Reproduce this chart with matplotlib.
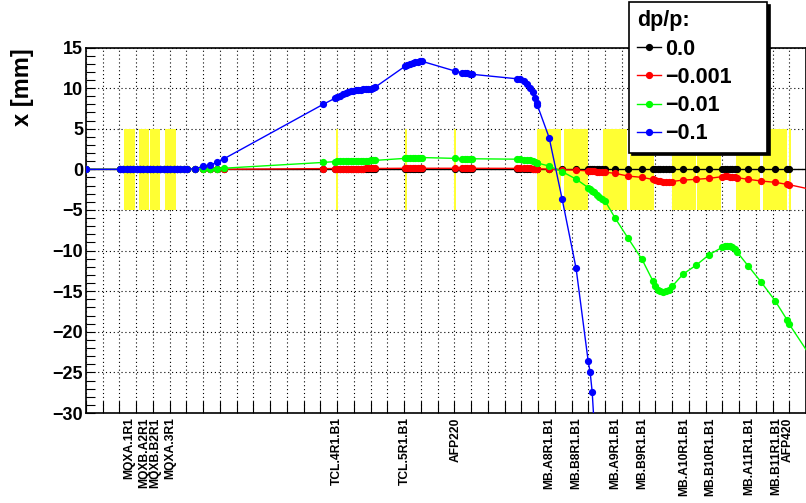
import numpy as np
import matplotlib.pyplot as plt
from matplotlib.patches import Rectangle
from matplotlib.ticker import MultipleLocator

plt.rcParams['font.family'] = ['Liberation Sans', 'DejaVu Sans']
plt.rcParams['font.weight'] = 'bold'

# --- tracked positions along the beam line, s [m]
s_m = [0.0,
       20.3, 22.3, 24.3, 26.3, 28.3, 30.3, 32.3, 34.3, 36.3, 38.3, 40.3,
       42.3, 44.3, 46.3, 48.3, 50.3, 52.3, 54.3, 56.3, 58.3, 60.3,
       65.1, 69.9, 74.1, 78.3, 82.4,
       141.6, 148.7, 150.2, 151.7, 153.5, 155.0, 156.5, 158.0, 159.5,
       161.0, 162.5, 164.0, 165.5, 167.0, 168.5, 170.0, 171.5, 172.6,
       190.6, 192.0, 193.5, 195.0, 196.5, 198.0, 199.5, 200.7,
       220.4,
       224.6, 226.1, 227.6, 229.1, 230.6,
       257.3, 259.3, 261.3, 263.3, 265.2, 266.8, 268.2, 269.2, 269.6,
       276.6, 284.4, 292.7,
       299.9, 301.1, 302.3, 303.5, 305.0, 306.5, 308.0, 310.0,
       316.0, 323.8, 332.1,
       338.7, 340.0, 341.5, 343.0, 344.7, 346.5, 348.3, 350.1,
       356.6, 364.4, 372.2,
       380.0, 381.5, 383.0, 384.5, 386.0, 387.5, 388.9,
       395.5, 403.3, 411.6, 418.6, 420.1, 440.0]

# horizontal offset x [mm] for each momentum deviation
x_dp0 = np.zeros(len(s_m))  # nominal orbit stays on axis

x_dp1 = [0.0,
         0.0, 0.0, 0.0, 0.0, 0.0, 0.0, 0.0, 0.0, 0.0, 0.0, 0.0,
         0.0, 0.0, 0.0, 0.0, 0.0, 0.0, 0.0, 0.0, 0.0, 0.0,
         0.0, 0.0, 0.01, 0.01, 0.01,
         0.09, 0.1, 0.1, 0.1, 0.1, 0.1, 0.1, 0.1, 0.1,
         0.1, 0.1, 0.1, 0.1, 0.11, 0.11, 0.11, 0.11, 0.11,
         0.13, 0.13, 0.13, 0.13, 0.13, 0.13, 0.13, 0.13,
         0.13,
         0.13, 0.13, 0.13, 0.13, 0.13,
         0.12, 0.12, 0.12, 0.11, 0.11, 0.1, 0.09, 0.08, 0.07,
         0.02, -0.05, -0.1,
         -0.2, -0.22, -0.24, -0.26, -0.28, -0.3, -0.32, -0.35,
         -0.5, -0.83, -0.99,
         -1.25, -1.35, -1.42, -1.47, -1.5, -1.52, -1.52, -1.5,
         -1.32, -1.23, -1.11,
         -0.9, -0.88, -0.88, -0.9, -0.93, -0.97, -1.03,
         -1.23, -1.44, -1.6, -1.85, -1.9, -2.78]

x_dp2 = [0.0,
         0.0, 0.0, 0.0, 0.0, 0.0, 0.0, 0.0, 0.0, 0.0, 0.0, 0.0,
         0.0, 0.0, 0.0, 0.0, 0.0, 0.0, 0.0, 0.0, 0.0, 0.0,
         0.01, 0.04, 0.06, 0.09, 0.14,
         0.85, 0.95, 0.97, 1.0, 1.02, 1.03, 1.04, 1.05, 1.06,
         1.06, 1.07, 1.07, 1.08, 1.08, 1.08, 1.09, 1.1, 1.1,
         1.35, 1.37, 1.39, 1.41, 1.43, 1.44, 1.45, 1.45,
         1.35,
         1.32, 1.31, 1.31, 1.3, 1.3,
         1.25, 1.24, 1.21, 1.17, 1.1, 1.02, 0.93, 0.83, 0.78,
         0.4, -0.29, -1.2,
         -2.25, -2.45, -2.65, -2.85, -3.1, -3.35, -3.6, -3.9,
         -6.0, -8.5, -11.1,
         -13.8, -14.4, -14.8, -15.0, -15.1, -15.0, -14.8, -14.4,
         -12.9, -11.8, -10.5,
         -9.6, -9.45, -9.4, -9.45, -9.6, -9.85, -10.2,
         -11.9, -13.9, -16.2, -18.5, -19.1, -25.3]

nan = np.nan
x_dp3 = [0.0,
         0.0, 0.0, 0.0, 0.0, 0.0, 0.0, 0.0, 0.0, 0.0, 0.0, 0.0,
         0.0, 0.0, 0.0, 0.0, 0.0, 0.0, 0.0, 0.0, 0.0, 0.0,
         0.1, 0.35, 0.55, 0.85, 1.3,
         8.0, 8.75, 8.85, 9.0, 9.3, 9.45, 9.55, 9.65, 9.7,
         9.75, 9.8, 9.8, 9.85, 9.85, 9.85, 9.9, 10.0, 10.1,
         12.7, 12.85, 13.0, 13.1, 13.2, 13.25, 13.3, 13.3,
         12.1,
         11.9, 11.85, 11.8, 11.75, 11.7,
         11.15, 11.07, 10.86, 10.54, 10.05, 9.5, 8.8, 8.2, 7.87,
         3.9, -3.7, -12.2,
         -23.6, -25.0, -27.4, -31.5, nan, nan, nan, nan,
         nan, nan, nan,
         nan, nan, nan, nan, nan, nan, nan, nan,
         nan, nan, nan,
         nan, nan, nan, nan, nan, nan, nan,
         nan, nan, nan, nan, nan, nan]

dp_labels = ['0.0', '\u22120.001', '\u22120.01', '\u22120.1']
dp_colors = ['black', '#ff0000', '#00ff00', '#0000ff']

# apertures (+-5 mm): start [m], length [m]
elem_start = [22.7, 31.7, 38.2, 47.2,
              149.5, 190.8, 220.0, 420.1,
              269.6, 285.4, 308.8, 325.0, 350.0, 365.2, 388.3, 404.4]
elem_len = [6.6, 5.9, 6.0, 6.6,
            0.9, 0.9, 0.9, 0.9,
            14.3, 14.3, 14.3, 14.3, 14.3, 14.3, 14.3, 14.3]
aper = 5.0

# element names under the axis
name_pos = [26.0, 34.7, 41.2, 50.5, 149.9, 190.6, 221.0,
            276.9, 292.7, 316.0, 332.1, 357.5, 372.6, 396.0, 412.5, 418.8]
names = ['MQXA.1R1', 'MQXB.A2R1', 'MQXB.B2R1', 'MQXA.3R1',
         'TCL.4R1.B1', 'TCL.5R1.B1', 'AFP220',
         'MB.A8R1.B1', 'MB.B8R1.B1', 'MB.A9R1.B1', 'MB.B9R1.B1',
         'MB.A10R1.B1', 'MB.B10R1.B1', 'MB.A11R1.B1', 'MB.B11R1.B1', 'AFP420']

fig = plt.figure(figsize=(8.06, 5.03), dpi=100)
ax = fig.add_axes([86 / 806, 1 - 413 / 503, 720 / 806, 365.5 / 503])
ax.set_axisbelow(True)

for s0, L in zip(elem_start, elem_len):
    ax.add_patch(Rectangle((s0, -aper), L, 2 * aper, facecolor='#ffff33',
                           edgecolor='none', zorder=1))

for xs, lab, c in zip([x_dp0, x_dp1, x_dp2, x_dp3], dp_labels, dp_colors):
    ax.plot(s_m, xs, color=c, lw=1.0, marker='o', ms=4.2, label=lab, zorder=3)

ax.set_xlim(0, 430)
ax.set_ylim(-30, 15)
ax.xaxis.set_major_locator(MultipleLocator(10))
ax.yaxis.set_major_locator(MultipleLocator(5))
ax.yaxis.set_minor_locator(MultipleLocator(1))
ax.set_xticks(name_pos, names, minor=True)

ax.tick_params(axis='x', which='major', direction='in', length=8.6, width=0.8,
               labelbottom=False)
ax.tick_params(axis='x', which='minor', length=0, labelrotation=90,
               labelsize=8.7, pad=3)
ax.tick_params(axis='y', which='both', direction='in', length=6.5, width=0.8,
               labelsize=13, pad=2)
for lbl in ax.get_yticklabels():
    lbl.set_fontweight('bold')

ax.grid(True, which='major', color='black', linestyle=(0, (1, 2.5)), lw=0.8)
for sp in ax.spines.values():
    sp.set_linewidth(1.2)

fig.text(22 / 806, 1 - 48 / 503, 'x [mm]', rotation=90, ha='center', va='top',
         fontsize=17, fontweight='bold')

leg = ax.legend(title='dp/p:', loc='upper left',
                bbox_to_anchor=(629 / 806, 1 - 2 / 503, 138 / 806, 0),
                bbox_transform=fig.transFigure, mode='expand',
                fontsize=15.5, title_fontsize=15.5, alignment='left',
                frameon=True, fancybox=False, edgecolor='black', framealpha=1,
                borderpad=0.38, labelspacing=0.34, handlelength=1.1,
                handletextpad=0.2, borderaxespad=0,
                shadow={'color': 'black', 'alpha': 1})
leg.get_frame().set_linewidth(1.2)
leg.get_title().set_fontweight('bold')
leg.set_zorder(10)

fig.savefig('out.png', dpi=100)
